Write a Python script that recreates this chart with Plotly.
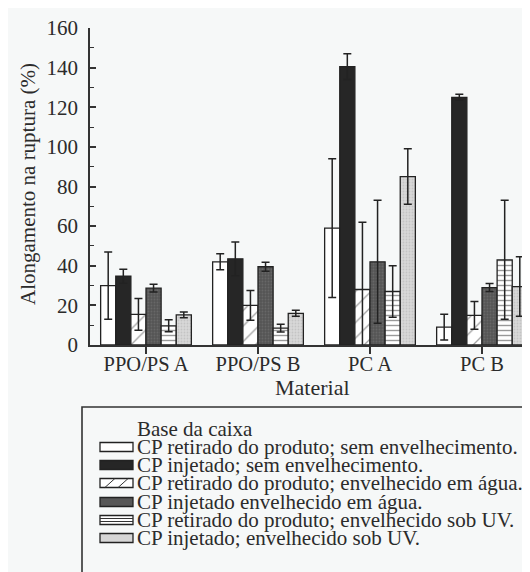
import plotly.graph_objects as go

categories = ["PPO/PS A", "PPO/PS B", "PC A", "PC B"]
series_names = [
    "CP retirado do produto; sem envelhecimento.",
    "CP injetado; sem envelhecimento.",
    "CP retirado do produto; envelhecido em água.",
    "CP injetado envelhecido em água.",
    "CP retirado do produto; envelhecido sob UV.",
    "CP injetado; envelhecido sob UV.",
]
s1_vals = [30, 42, 59, 9]
s1_err = [17, 4, 35, 6.5]
s2_vals = [34.7, 43.5, 140.5, 125]
s2_err = [3.5, 8.5, 6.5, 1.5]
s3_vals = [15.5, 20, 28, 15]
s3_err = [8, 7.5, 34, 7]
s4_vals = [28.7, 39.5, 42, 29]
s4_err = [2, 2.3, 31, 2]
s5_vals = [9.7, 8.5, 27, 43]
s5_err = [3, 2, 13, 30]
s6_vals = [15.2, 16, 85, 29.5]
s6_err = [1.5, 1.5, 14, 15]
y_ticks = [0, 20, 40, 60, 80, 100, 120, 140, 160]

FONT = "'Liberation Serif', 'Times New Roman', serif"
INK = "#2b2b2b"
BG = "#f6f8f8"

styles = [
    dict(color="#ffffff", pattern=dict(shape="")),
    dict(color="#262626", pattern=dict(shape="")),
    dict(color="#ffffff", pattern=dict(shape="/", fgcolor="#444444", bgcolor="#ffffff", size=11, solidity=0.12)),
    dict(color="#5e5e5e", pattern=dict(shape=".", fgcolor="#7a7a7a", bgcolor="#555555", size=3, solidity=0.3)),
    dict(color="#ffffff", pattern=dict(shape="-", fgcolor="#333333", bgcolor="#ffffff", size=5, solidity=0.28)),
    dict(color="#d4d4d4", pattern=dict(shape=".", fgcolor="#b0b0b0", bgcolor="#d8d8d8", size=3, solidity=0.3)),
]

vals = [s1_vals, s2_vals, s3_vals, s4_vals, s5_vals, s6_vals]
errs = [s1_err, s2_err, s3_err, s4_err, s5_err, s6_err]

fig = go.Figure()
for name, v, e, st in zip(series_names, vals, errs, styles):
    fig.add_trace(go.Bar(
        x=categories, y=v, name=name,
        marker=dict(color=st["color"], pattern=st["pattern"],
                    line=dict(color="#222222", width=1.3)),
        error_y=dict(type="data", array=e, visible=True, color="#222222",
                     thickness=1.5, width=4),
        showlegend=False,
    ))

W, H = 530, 572
L, R, T, B = 82, 0, 20, 235
PW, PH = W - L - R, H - T - B


def px_x(px):
    return (px - L) / PW


def px_y(py):
    return (H - B - py) / PH


shapes = []
annotations = []
# axis titles
annotations.append(dict(text="Material", xref="paper", yref="paper",
                        x=px_x(304), y=px_y(379), xanchor="center", yanchor="middle",
                        showarrow=False, font=dict(family=FONT, size=22, color=INK)))
annotations.append(dict(text="Alongamento na ruptura (%)", xref="paper", yref="paper",
                        x=px_x(20), y=px_y(176), xanchor="center", yanchor="middle",
                        textangle=-90, showarrow=False,
                        font=dict(family=FONT, size=21, color=INK)))
# legend box (cut off at right and bottom as in the reference)
shapes.append(dict(type="rect", xref="paper", yref="paper",
                   x0=px_x(74), x1=px_x(545), y0=px_y(399), y1=px_y(590),
                   line=dict(color="#333333", width=1.6), fillcolor="rgba(0,0,0,0)"))
annotations.append(dict(text="Base da caixa", xref="paper", yref="paper",
                        x=px_x(127), y=px_y(421), xanchor="left", yanchor="middle",
                        showarrow=False, font=dict(family=FONT, size=21, color=INK)))
row_y = [439, 457, 475, 494, 512, 530]
sx0, sx1 = 92, 125
for i, (name, ry) in enumerate(zip(series_names, row_y)):
    y0, y1 = px_y(ry + 4.5), px_y(ry - 4.5)
    fill = ["#ffffff", "#262626", "#ffffff", "#575757", "#ffffff", "#d6d6d6"][i]
    shapes.append(dict(type="rect", xref="paper", yref="paper",
                       x0=px_x(sx0), x1=px_x(sx1), y0=y0, y1=y1,
                       line=dict(color="#222222", width=1.3), fillcolor=fill))
    if i == 2:
        for a in (0.3, 0.7):
            xa = sx0 + (sx1 - sx0) * a
            shapes.append(dict(type="line", xref="paper", yref="paper",
                               x0=px_x(xa - 5), x1=px_x(xa + 5), y0=y0, y1=y1,
                               line=dict(color="#333333", width=1)))
    if i == 4:
        for f in (1 / 3, 2 / 3):
            yy = ry - 4.5 + 9 * f
            shapes.append(dict(type="line", xref="paper", yref="paper",
                               x0=px_x(sx0), x1=px_x(sx1), y0=px_y(yy), y1=px_y(yy),
                               line=dict(color="#333333", width=1)))
    annotations.append(dict(text=name, xref="paper", yref="paper",
                            x=px_x(127), y=px_y(ry), xanchor="left", yanchor="middle",
                            showarrow=False, font=dict(family=FONT, size=21, color=INK)))

fig.update_layout(
    width=W, height=H,
    margin=dict(l=L, r=R, t=T, b=B, autoexpand=False),
    paper_bgcolor=BG, plot_bgcolor=BG,
    barmode="group", bargap=0.19, bargroupgap=0,
    font=dict(family=FONT, size=20, color=INK),
    shapes=shapes, annotations=annotations,
    showlegend=False,
    xaxis=dict(
        range=[-0.5, 3.5], showgrid=False, zeroline=False, automargin=False,
        showline=True, linecolor="#333333", linewidth=1.5,
        ticks="outside", ticklen=7, tickwidth=1.5, tickcolor="#333333",
        tickfont=dict(family=FONT, size=20.5, color=INK),
        ticklabelstandoff=-7,
    ),
    yaxis=dict(
        range=[0, 160], tickvals=y_ticks, showgrid=False, zeroline=False, automargin=False,
        showline=True, linecolor="#333333", linewidth=1.5,
        ticks="inside", ticklen=6, tickwidth=1.5, tickcolor="#333333",
        minor=dict(dtick=10, ticks="inside", ticklen=4, tickwidth=1.2, tickcolor="#333333"),
        tickfont=dict(family=FONT, size=21, color=INK),
        ticklabelstandoff=6,
    ),
)

fig.write_html("out.html")
